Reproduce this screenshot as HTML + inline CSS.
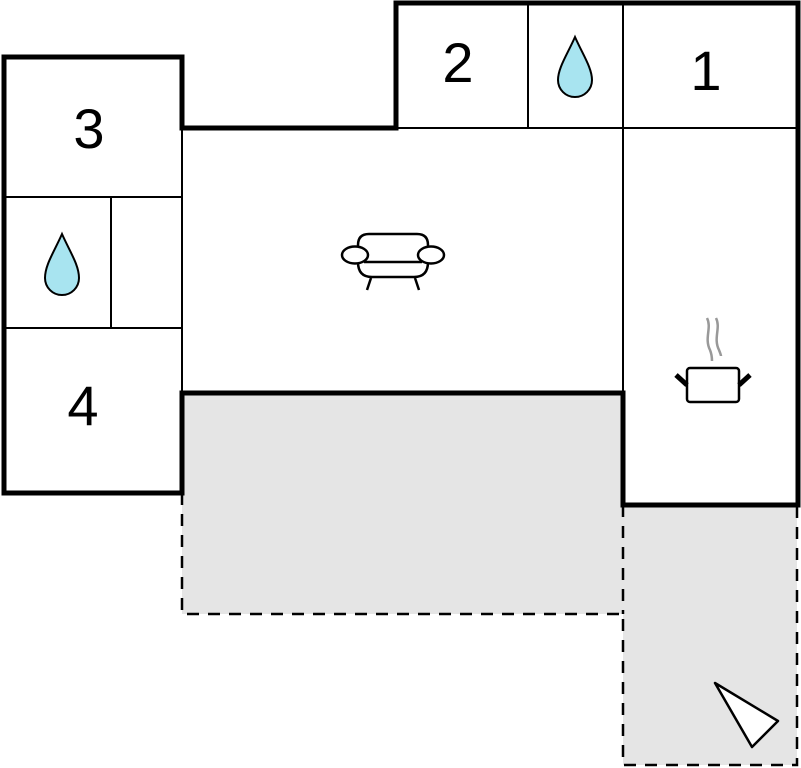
<!DOCTYPE html>
<html><head><style>html,body{margin:0;padding:0;background:#fff}svg{display:block}</style></head><body>
<svg width="801" height="768" viewBox="0 0 801 768" xmlns="http://www.w3.org/2000/svg">
<rect x="182" y="393" width="441" height="221" fill="#e5e5e5"/>
<rect x="623" y="505" width="174" height="260" fill="#e5e5e5"/>
<g fill="none" stroke="#000" stroke-width="2.5" stroke-dasharray="12,9">
<path d="M182 493 V614 H623 V765 H797 V505"/>
<path d="M623 505 V614"/>
</g>
<g fill="none" stroke="#000" stroke-width="2">
<path d="M4 197 H182 M4 328 H182 M111 197 V328 M182 128 V393"/>
<path d="M528 3 V128 M623 3 V393 M396 128 H798"/>
</g>
<g fill="none" stroke="#000" stroke-width="5" stroke-linejoin="miter">
<path d="M182 128 V57 H4 V493 H182 V393 H623 V505 H798 V3 H396 V128 H182 Z" />
</g>
<g font-family="Liberation Sans, sans-serif" font-size="56" text-anchor="middle" fill="#000">
<text x="458" y="82">2</text>
<text x="706" y="90">1</text>
<text x="89" y="148">3</text>
<text x="83" y="425">4</text>
</g>
<g fill="#a8e4f0" stroke="#000" stroke-width="2">
<path d="M575 37 C 583 55, 592 68, 592 80 A17 17 0 0 1 558 80 C 558 68, 567 55, 575 37 Z"/>
<path d="M62 234 C 70 252, 79 265, 79 278 A17 17 0 0 1 45 278 C 45 265, 54 252, 62 234 Z"/>
</g>
<g fill="#fff" stroke="#000" stroke-width="2.5">
<path d="M358 262 V245 Q358 234 369 234 H417 Q428 234 428 245 V262"/>
<path d="M358 262 Q358 277 372 277 H414 Q428 277 428 262"/>
<line x1="364" y1="262" x2="422" y2="262"/>
<ellipse cx="355" cy="255" rx="13" ry="8.5"/>
<ellipse cx="431" cy="255" rx="13" ry="8.5"/>
<path d="M371 278 L367 290 M415 278 L419 290" fill="none"/>
</g>
<g fill="none" stroke="#999" stroke-width="2.5">
<path d="M707 318 C 712 328, 704 338, 710 350 C 712 355, 712 358, 712 361"/>
<path d="M716 318 C 721 328, 713 338, 719 350 C 721 355, 721 356, 721 356"/>
</g>
<rect x="687" y="368" width="52" height="34" rx="3" fill="#fff" stroke="#000" stroke-width="2.5"/>
<path d="M676 375 L687 385 M750 375 L739 385" stroke="#000" stroke-width="5"/>
<polygon points="715,683 778,721 752,747" fill="#fff" stroke="#000" stroke-width="2.5" stroke-linejoin="round"/>
</svg>
</body></html>
